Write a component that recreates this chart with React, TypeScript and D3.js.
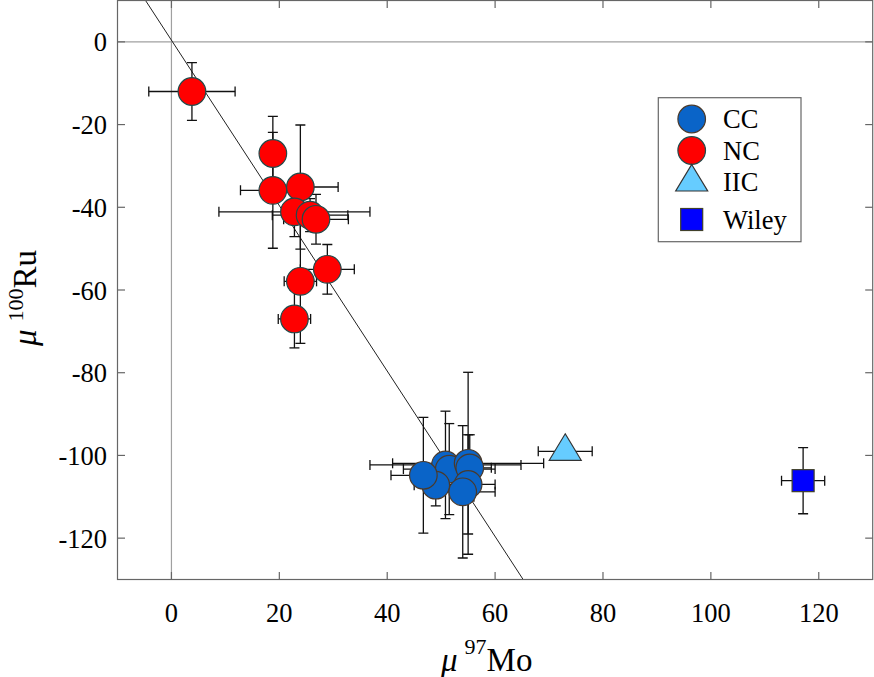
import React from "react";
import * as d3 from "d3";

// ---- data ----
const ccX = [50.8, 51.5, 55.0, 55.3, 55.0, 49.0, 46.7, 54.0];
const ccY = [-102.3, -103.3, -101.9, -103.0, -107.0, -107.2, -104.8, -108.8];
const ccXErr = [14, 8.5, 14, 4, 5, 4, 6, 6];
const ccYErr = [13, 11, 22, 8, 12, 5, 14, 16];

const ncX = [3.8, 18.8, 18.8, 23.9, 22.8, 25.7, 26.8, 28.9, 23.9, 22.8];
const ncY = [-12, -27, -35.9, -35.1, -41.1, -41.9, -42.9, -55, -57.9, -67];
const ncXErr = [8, 2, 6, 7, 14, 7, 6, 5, 3, 3];
const ncYErr = [7, 9, 14, 15, 6, 4, 6, 6, 15, 7];

const iicX = [73];
const iicY = [-99];
const iicXErr = [5];
const iicYErr = [0];

const wileyX = [117.1];
const wileyY = [-106.1];
const wileyXErr = [4];
const wileyYErr = [8];

const lineSlope = -2.0;
const lineIntercept = 0.4;

const xTicks = [0, 20, 40, 60, 80, 100, 120];
const yTicks = [0, -20, -40, -60, -80, -100, -120];
const xDomain = [-10, 130];
const yDomain = [10, -130];

const legendLabels = ["CC", "NC", "IIC", "Wiley"];

// ---- styles ----
const FONT = "'Liberation Serif', 'Times New Roman', serif";
const W = 874;
const H = 677;
const L = 117.5, R = 872.7, T = 0.5, B = 579.5;

const x = d3.scaleLinear().domain(xDomain).range([L, R]);
const y = d3.scaleLinear().domain(yDomain).range([T, B]);

type Pt = { x: number; y: number; xe: number; ye: number };
const zip = (xs: number[], ys: number[], xe: number[], ye: number[]): Pt[] =>
  xs.map((v, i) => ({ x: v, y: ys[i], xe: xe[i], ye: ye[i] }));

const cc = zip(ccX, ccY, ccXErr, ccYErr);
const nc = zip(ncX, ncY, ncXErr, ncYErr);
const iic = zip(iicX, iicY, iicXErr, iicYErr);
const wiley = zip(wileyX, wileyY, wileyXErr, wileyYErr);

const CAP = 5;

function ErrBars({ pts }: { pts: Pt[] }) {
  return (
    <g stroke="#111" strokeWidth={1.3} fill="none">
      {pts.map((p, i) => {
        const cx = x(p.x), cy = y(p.y);
        const x0 = x(p.x - p.xe), x1 = x(p.x + p.xe);
        const y0 = y(p.y + p.ye), y1 = y(p.y - p.ye);
        return (
          <g key={i}>
            {p.xe > 0 && (
              <>
                <line x1={x0} x2={x1} y1={cy} y2={cy} />
                <line x1={x0} x2={x0} y1={cy - CAP} y2={cy + CAP} />
                <line x1={x1} x2={x1} y1={cy - CAP} y2={cy + CAP} />
              </>
            )}
            {p.ye > 0 && (
              <>
                <line x1={cx} x2={cx} y1={y0} y2={y1} />
                <line x1={cx - CAP} x2={cx + CAP} y1={y0} y2={y0} />
                <line x1={cx - CAP} x2={cx + CAP} y1={y1} y2={y1} />
              </>
            )}
          </g>
        );
      })}
    </g>
  );
}

const R_CIRCLE = 13.8;
const triPath = (cx: number, cy: number) =>
  `M${cx},${cy - 17.5} L${cx + 16},${cy + 9} L${cx - 16},${cy + 9} Z`;

export default function App() {
  const lx0 = (yDomain[0] - lineIntercept) / lineSlope;
  const lx1 = (yDomain[1] - lineIntercept) / lineSlope;

  const legendX = 691.7;
  const legendYs = [119, 150.5, 182, 219.5];

  return (
    <svg
      width={W}
      height={H}
      style={{ position: "absolute", left: 0, top: 0, background: "#fff" }}
      fontFamily={FONT}
    >
      <defs>
        <clipPath id="plotClip">
          <rect x={L} y={T} width={R - L} height={B - T} />
        </clipPath>
      </defs>
      <rect x={0} y={0} width={W} height={H} fill="#fff" />
      <g clipPath="url(#plotClip)">
        {/* zero lines */}
        <line x1={L} x2={R} y1={y(0)} y2={y(0)} stroke="#a0a0a0" strokeWidth={1.2} />
        <line x1={x(0)} x2={x(0)} y1={T} y2={B} stroke="#a0a0a0" strokeWidth={1.2} />
        {/* regression line */}
        <line
          x1={x(lx0)}
          y1={y(yDomain[0])}
          x2={x(lx1)}
          y2={y(yDomain[1])}
          stroke="#222"
          strokeWidth={1}
        />
        {/* NC */}
        <ErrBars pts={nc} />
        {nc.map((p, i) => (
          <circle key={i} cx={x(p.x)} cy={y(p.y)} r={R_CIRCLE} fill="#ff0000" stroke="#224a4a" strokeWidth={1.2} />
        ))}
        {/* CC */}
        <ErrBars pts={cc} />
        {cc.map((p, i) => (
          <circle key={i} cx={x(p.x)} cy={y(p.y)} r={R_CIRCLE} fill="#0a64c8" stroke="#4a3a2c" strokeWidth={1.2} />
        ))}
        {/* IIC */}
        <ErrBars pts={iic} />
        {iic.map((p, i) => (
          <path key={i} d={triPath(x(p.x), y(p.y))} fill="#66ccff" stroke="#333" strokeWidth={1.2} />
        ))}
        {/* Wiley */}
        <ErrBars pts={wiley} />
        {wiley.map((p, i) => (
          <rect key={i} x={x(p.x) - 11} y={y(p.y) - 11} width={22} height={22} fill="#0000ff" stroke="#40402a" strokeWidth={1.2} />
        ))}
      </g>

      {/* frame */}
      <rect x={L} y={T} width={R - L} height={B - T} fill="none" stroke="#666" strokeWidth={1.2} />
      {/* ticks */}
      <g stroke="#666" strokeWidth={1.2}>
        {xTicks.map((t) => (
          <g key={"xt" + t}>
            <line x1={x(t)} x2={x(t)} y1={B} y2={B - 7.5} />
            <line x1={x(t)} x2={x(t)} y1={T} y2={T + 7.5} />
          </g>
        ))}
        {yTicks.map((t) => (
          <g key={"yt" + t}>
            <line x1={L} x2={L + 7.5} y1={y(t)} y2={y(t)} />
            <line x1={R} x2={R - 7.5} y1={y(t)} y2={y(t)} />
          </g>
        ))}
      </g>
      {/* tick labels */}
      <g fontSize={26.5} fill="#000">
        {xTicks.map((t) => (
          <text key={"xl" + t} x={x(t)} y={622} textAnchor="middle">
            {t}
          </text>
        ))}
        {yTicks.map((t) => (
          <text key={"yl" + t} x={107} y={y(t) + 9.5} textAnchor="end">
            {t}
          </text>
        ))}
      </g>

      {/* x label */}
      <text x={441} y={671} fontSize={33} fill="#000">
        <tspan fontStyle="italic">μ</tspan>
        <tspan dx={7} dy={-17} fontSize={22}>97</tspan>
        <tspan dy={17} fontSize={33}>Mo</tspan>
      </text>
      {/* y label */}
      <text transform={`translate(36,346) rotate(-90)`} fontSize={33} fill="#000">
        <tspan fontStyle="italic">μ</tspan>
        <tspan dx={8} dy={-13} fontSize={22}>100</tspan>
        <tspan dy={13} fontSize={33}>Ru</tspan>
      </text>

      {/* legend */}
      <rect x={658.3} y={97.7} width={142.7} height={144} fill="#fff" stroke="#666" strokeWidth={1.2} />
      <circle cx={legendX} cy={legendYs[0]} r={R_CIRCLE} fill="#0a64c8" stroke="#4a3a2c" strokeWidth={1.2} />
      <circle cx={legendX} cy={legendYs[1]} r={R_CIRCLE} fill="#ff0000" stroke="#224a4a" strokeWidth={1.2} />
      <path d={triPath(legendX, legendYs[2])} fill="#66ccff" stroke="#333" strokeWidth={1.2} />
      <rect x={legendX - 11} y={legendYs[3] - 11} width={22} height={22} fill="#0000ff" stroke="#40402a" strokeWidth={1.2} />
      <g fontSize={26.5} fill="#000">
        {legendLabels.map((lab, i) => (
          <text key={lab} x={723} y={legendYs[i] + 9} >
            {lab}
          </text>
        ))}
      </g>
    </svg>
  );
}
